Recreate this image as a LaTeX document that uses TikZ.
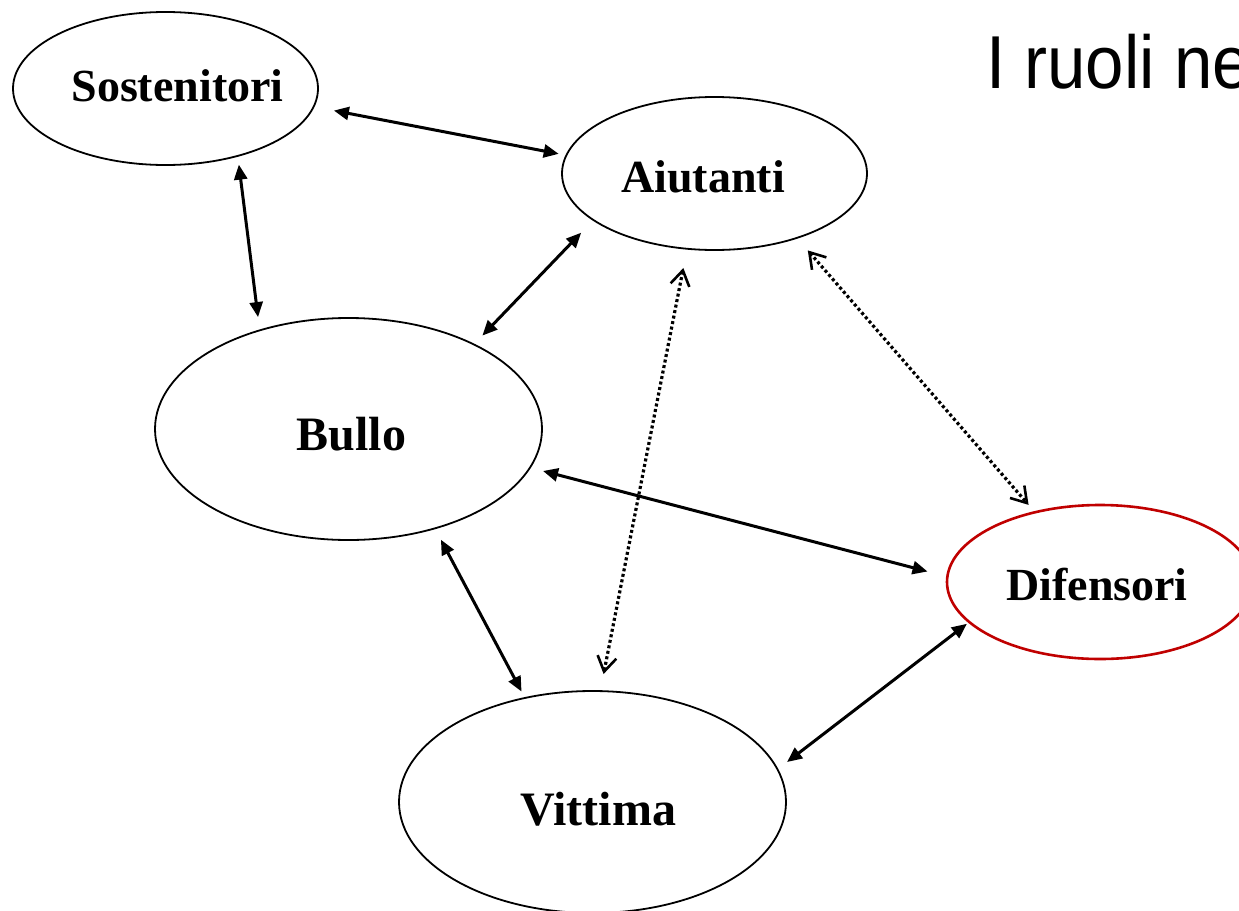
\documentclass[tikz,border=0pt]{standalone}
\usepackage{fontspec}
\setmainfont{Liberation Serif}
\newfontfamily\titlefont{Liberation Sans}
\usetikzlibrary{arrows.meta,shapes.geometric}
\definecolor{roleRed}{RGB}{192,0,0}
\begin{document}
\begin{tikzpicture}[x=1pt,y=-1pt,
  role/.style={ellipse,draw=black,line width=1.8pt,inner sep=0pt,outer sep=0pt},
  smallrole/.style={role,minimum width=305pt,minimum height=153pt},
  bigrole/.style={role,minimum width=387pt,minimum height=222pt},
  rolename/.style={anchor=base,inner sep=0pt,font=\bfseries\fontsize{46}{55}\selectfont},
  bigname/.style={rolename,font=\bfseries\fontsize{48}{58}\selectfont},
  link/.style={line width=3pt,{Triangle[length=15pt,width=13pt]}-{Triangle[length=15pt,width=13pt]}},
  weaklink/.style={line width=3.2pt,dash pattern=on 3pt off 2.6pt,
    {Straight Barb[length=15pt,width=19pt,line width=2.6pt]}-{Straight Barb[length=15pt,width=19pt,line width=2.6pt]}}]
\useasboundingbox (0,0) rectangle (1239,910);
\fill[white] (0,0) rectangle (1239,910);

% roles
\node[smallrole] (s) at (165.5,88.5) {};
\node[smallrole] (a) at (714.5,173.5) {};
\node[bigrole] (b) at (348.5,429) {};
\node[smallrole,draw=roleRed,line width=2.6pt,minimum width=306pt,minimum height=154pt] (d) at (1100,582) {};
\node[bigrole] (v) at (592.5,802) {};

\node[rolename] (st) at (177.5,101) {Sostenitori};
\node[rolename] (at) at (703,192) {Aiutanti};
\node[bigname] (bt) at (351.5,450) {Bullo};
\node[rolename] (dt) at (1097,600) {Difensori};
\node[bigname] (vt) at (598.5,825) {Vittima};

% title, running past the right edge
\node[anchor=base west,inner sep=0pt] (title) at (986,88)
  {\titlefont\fontsize{75}{90}\selectfont\scalebox{0.92}[1]{I ruoli ne}};

% relations
\draw[link,shorten <=20.6pt,shorten >=7.8pt] (s.-7.4) -- (a.173.9);
\draw[link,shorten <=8.8pt,shorten >=13.4pt] (s.-43.8) -- (b.132.3);
\draw[link,shorten <=17.6pt,shorten >=12.3pt] (a.201.6) -- (b.34.6);
\draw[link,shorten <=13.5pt,shorten >=20.5pt] (b.-12.35) -- (d.178.7);
\draw[link,shorten <=12.9pt,shorten >=7.3pt] (b.-49.4) -- (v.123.2);
\draw[link,shorten <=12.1pt,shorten >=3pt] (v.10.7) -- (d.197.7);
\draw[weaklink,shorten <=19.6pt,shorten >=17.4pt] (a.-110.2) -- (v.86.5);
\draw[weaklink,shorten <=16.6pt,shorten >=9.8pt] (a.-38.5) -- (d.133.15);
\end{tikzpicture}
\end{document}
